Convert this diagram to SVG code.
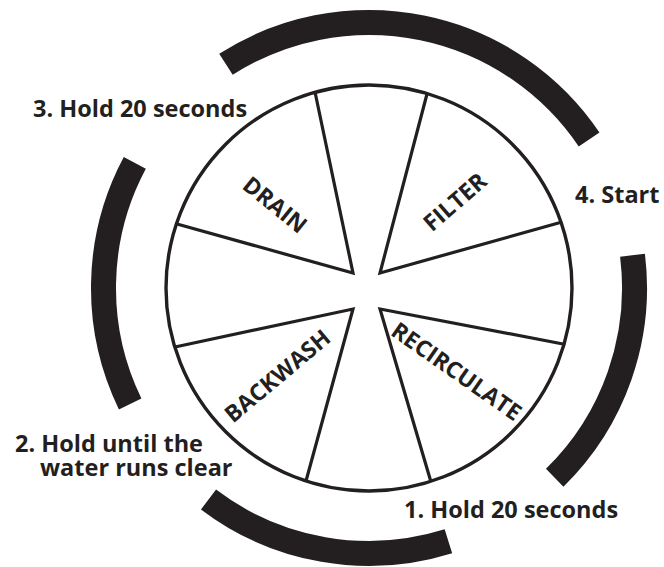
<svg xmlns="http://www.w3.org/2000/svg" width="664" height="567" viewBox="0 0 664 567">
<style>
.band{fill:none;stroke:#231f20;stroke-width:25;stroke-linecap:butt}
.dial{fill:none;stroke:#231f20;stroke-width:3.4}
.spoke{fill:none;stroke:#231f20;stroke-width:3.2;stroke-linejoin:miter;stroke-miterlimit:20}
.lbl{font-family:"Open Sans","Liberation Sans",sans-serif;font-weight:700;font-size:23.5px;fill:#231f20}
.seg{font-family:"Open Sans","Liberation Sans",sans-serif;font-weight:700;font-size:23px;fill:#231f20;text-anchor:middle}
</style>
<rect width="664" height="567" fill="#ffffff"/>
<g id="bands">
<path class="band" d="M225.95,64.3 A265.5,265.5 0 0 1 589.1,139.5"/>
<path class="band" d="M130.15,403.97 A265.5,265.5 0 0 1 134.8,162.95"/>
<path class="band" d="M448.4,541.3 A265.5,265.5 0 0 1 208.5,499.5"/>
<path class="band" d="M632.5,255.2 A265.5,265.5 0 0 1 554.7,477.7"/>
</g>
<g id="dial">
<circle class="dial" cx="369" cy="288" r="203"/>
</g>
<g id="connectors">
<path class="spoke" d="M315,92 L353,273 L177,224"/>
<path class="spoke" d="M427,94 L380,273 L562,222"/>
<path class="spoke" d="M175,347 L353,309 L306,481"/>
<path class="spoke" d="M563,344 L380,309 L431,482"/>
</g>
<g id="drain"><text class="seg" transform="translate(275,205) rotate(39)" y="8">DRAIN</text></g>
<g id="filter"><text class="seg" transform="translate(455,202) rotate(-41)" y="8">FILTER</text></g>
<g id="backwash"><text class="seg" transform="translate(277.5,376) rotate(-40)" y="8">BACKWASH</text></g>
<g id="recirculate"><text class="seg" transform="translate(456.5,371.5) rotate(35)" y="8">RECIRCULATE</text></g>
<g id="step3"><text class="lbl" x="33" y="117">3. Hold 20 seconds</text></g>
<g id="step4"><text class="lbl" x="575" y="203">4. Start</text></g>
<g id="step2"><text class="lbl" x="15" y="452">2. Hold until the</text><text class="lbl" x="40" y="476">water runs clear</text></g>
<g id="step1"><text class="lbl" x="404" y="518">1. Hold 20 seconds</text></g>
</svg>
